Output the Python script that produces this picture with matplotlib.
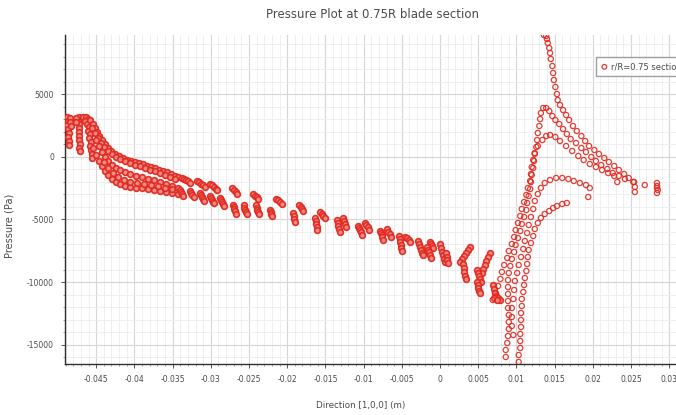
"""Pressure distribution along the 0.75R blade section."""

import matplotlib

matplotlib.use("Agg")
import matplotlib.pyplot as plt
import numpy as np
from matplotlib.ticker import FixedLocator, FixedFormatter, MultipleLocator

_RED = "#e2281f"
_TEXT = "#4a4a4a"
_MAJOR = "#d6d6d6"
_MINOR = "#ececec"

# leading edge columns
le_x = [-0.0488, -0.0487, -0.0488, -0.0487, -0.0486, -0.0487, -0.0486, -0.0486, -0.0484, -0.0484, -0.0483,
        -0.0473, -0.0474, -0.0473, -0.0472, -0.0473, -0.0472, -0.0472, -0.0471, -0.0472, -0.0471,
        -0.0476, -0.0477,
        -0.0467, -0.0463, -0.0461, -0.0465, -0.0462, -0.0459, -0.0461, -0.0458, -0.0459, -0.0457,
        -0.0458, -0.0457, -0.0455, -0.0455]
le_y = [3200, 2880, 2560, 2240, 1920, 1600, 1280, 960, 3120, 2800, 2480,
        3200, 2960, 2640, 2320, 2000, 1680, 1360, 1040, 720, 480,
        3120, 2800,
        3200, 3200, 3040, 2880, 2640, 2400, 2080, 1840, 1520, 1200, 880, 560, 240, -80]

# upper band (two rows)
upper_x = [-0.0458, -0.0454, -0.0452, -0.0449, -0.0446, -0.0442, -0.0438, -0.0435, -0.0431, -0.0425,
           -0.0420, -0.0415, -0.0410, -0.0404, -0.0399, -0.0394, -0.0389, -0.0384, -0.0378, -0.0373,
           -0.0368, -0.0363, -0.0357, -0.0352, -0.0347, -0.0343,
           -0.0455, -0.0452, -0.0448, -0.0444, -0.0440, -0.0435, -0.0429, -0.0424, -0.0419, -0.0412,
           -0.0406, -0.0399, -0.0393, -0.0386, -0.0380, -0.0373, -0.0366, -0.0360, -0.0353, -0.0347]
upper_y = [2960, 2640, 2320, 2000, 1680, 1360, 1040, 720, 480, 240,
           80, -80, -240, -320, -400, -480, -560, -720, -800, -880,
           -1040, -1120, -1200, -1360, -1520, -1600,
           2320, 1920, 1520, 1120, 800, 480, 240, 0, -160, -320,
           -480, -640, -720, -880, -1040, -1120, -1280, -1440, -1600, -1760]

# middle band
mid_x = [-0.0450, -0.0446, -0.0442, -0.0438, -0.0435, -0.0429, -0.0424, -0.0419, -0.0412, -0.0406,
         -0.0398, -0.0390, -0.0382, -0.0374, -0.0366, -0.0359, -0.0351, -0.0343]
mid_y = [1360, 880, 400, 0, -320, -640, -880, -1040, -1200, -1360,
         -1520, -1600, -1760, -1840, -2000, -2160, -2320, -2480]

# lower band (two rows)
lower_x = [-0.0454, -0.0450, -0.0446, -0.0442, -0.0438, -0.0435, -0.0429, -0.0424, -0.0419, -0.0412,
           -0.0406, -0.0398, -0.0390, -0.0382, -0.0374, -0.0366, -0.0359, -0.0351, -0.0343,
           -0.0440, -0.0435, -0.0428, -0.0421, -0.0414, -0.0406, -0.0397, -0.0387, -0.0378, -0.0369,
           -0.0360, -0.0351]
lower_y = [720, 160, -320, -720, -1120, -1440, -1760, -2000, -2160, -2320,
           -2400, -2480, -2480, -2560, -2640, -2720, -2800, -2880, -2960,
           -400, -880, -1280, -1600, -1840, -2000, -2080, -2160, -2240, -2320,
           -2480, -2560]

# upper row of short strokes along the chord
strokes_up_x = [-0.0338, -0.0335, -0.0332, -0.0330, -0.0327,
                -0.0318, -0.0315, -0.0313, -0.0310, -0.0308,
                -0.0301, -0.0298, -0.0296, -0.0293, -0.0292,
                -0.0272, -0.0270, -0.0267, -0.0266,
                -0.0245, -0.0242, -0.0240, -0.0238,
                -0.0215, -0.0212, -0.0209, -0.0207,
                -0.0185, -0.0182, -0.0181, -0.0179,
                -0.0157, -0.0154, -0.0153, -0.0151,
                -0.0127, -0.0126, -0.0124, -0.0123,
                -0.0098, -0.0097, -0.0094, -0.0093,
                -0.0069, -0.0068, -0.0065, -0.0064,
                -0.0046, -0.0043, -0.0041, -0.0039,
                -0.0013, -0.0012, -0.0010, -0.0009,
                0.0039, 0.0037, 0.0034, 0.0031, 0.0029, 0.0026,
                0.0065, 0.0063, 0.0060, 0.0059, 0.0056, 0.0055]
strokes_up_y = [-1680, -1760, -1840, -1920, -2080,
                -1920, -2000, -2160, -2240, -2400,
                -2160, -2240, -2400, -2560, -2640,
                -2480, -2640, -2800, -2960,
                -2960, -3120, -3200, -3360,
                -3360, -3440, -3600, -3760,
                -3840, -4000, -4160, -4320,
                -4400, -4560, -4720, -4880,
                -4880, -5120, -5360, -5600,
                -5280, -5440, -5600, -5840,
                -5760, -6000, -6160, -6400,
                -6400, -6480, -6640, -6800,
                -6800, -6960, -7120, -7280,
                -7200, -7440, -7680, -7920, -8160, -8400,
                -7680, -8000, -8320, -8640, -8960, -9280]

# lower row of short strokes
strokes_lo_x = [-0.0340, -0.0339, -0.0338, -0.0336,
                -0.0327, -0.0326, -0.0325, -0.0322,
                -0.0314, -0.0313, -0.0312, -0.0310, -0.0309,
                -0.0301, -0.0300, -0.0298, -0.0297, -0.0296,
                -0.0288, -0.0287, -0.0285, -0.0284, -0.0283,
                -0.0271, -0.0270, -0.0270, -0.0268, -0.0267,
                -0.0257, -0.0257, -0.0255, -0.0254, -0.0253,
                -0.0241, -0.0240, -0.0240, -0.0238, -0.0237,
                -0.0223, -0.0221, -0.0221, -0.0220,
                -0.0192, -0.0191, -0.0191, -0.0190,
                -0.0164, -0.0162, -0.0162, -0.0161, -0.0161,
                -0.0135, -0.0134, -0.0134, -0.0132, -0.0131,
                -0.0107, -0.0106, -0.0105, -0.0103, -0.0102,
                -0.0079, -0.0077, -0.0076, -0.0076, -0.0075,
                -0.0054, -0.0052, -0.0052, -0.0051, -0.0051, -0.0050,
                -0.0029, -0.0027, -0.0026, -0.0025, -0.0024, -0.0022,
                -0.0017, -0.0016, -0.0014, -0.0013, -0.0012,
                0.0000, 0.0001, 0.0003, 0.0004, 0.0005, 0.0007,
                0.0008, 0.0009, 0.0009, 0.0010,
                0.0030, 0.0031, 0.0031, 0.0033, 0.0034,
                0.0048, 0.0050, 0.0051, 0.0052, 0.0054,
                0.0048, 0.0050, 0.0050, 0.0051, 0.0052,
                0.0069, 0.0071, 0.0072, 0.0073, 0.0076, 0.0079, 0.0071, 0.0075]
strokes_lo_y = [-2640, -2800, -2960, -3120,
                -2720, -2880, -3040, -3200,
                -2880, -3040, -3200, -3360, -3520,
                -3120, -3280, -3440, -3600, -3680,
                -3280, -3440, -3600, -3760, -3920,
                -3840, -4000, -4160, -4320, -4560,
                -3840, -4080, -4240, -4400, -4560,
                -3840, -4080, -4240, -4400, -4560,
                -4240, -4400, -4560, -4720,
                -4480, -4720, -4960, -5200,
                -4880, -5120, -5360, -5600, -5840,
                -5040, -5280, -5520, -5760, -6000,
                -5520, -5680, -5840, -6000, -6240,
                -5920, -6080, -6240, -6400, -6640,
                -6320, -6560, -6800, -7040, -7280, -7520,
                -6720, -6960, -7200, -7440, -7680, -7840,
                -7200, -7440, -7600, -7840, -8080,
                -6960, -7280, -7600, -7840, -8160, -8400,
                -7680, -8000, -8240, -8480,
                -8560, -8880, -9200, -9520, -9760,
                -9040, -9280, -9520, -9760, -10000,
                -10000, -10240, -10480, -10720, -10880,
                -10240, -10560, -10880, -11120, -11280, -11440, -11280, -11440]

# trailing edge region: loops rising out of the suction trough
te1_x = [0.0086, 0.0086, 0.0088, 0.0089, 0.0090, 0.0090, 0.0090, 0.0089, 0.0089, 0.0089,
         0.0089, 0.0089, 0.0090, 0.0092, 0.0094, 0.0097, 0.0099, 0.0102, 0.0105, 0.0107,
         0.0110, 0.0113, 0.0114, 0.0116, 0.0118, 0.0119, 0.0120, 0.0122, 0.0123, 0.0124,
         0.0126, 0.0127, 0.0128, 0.0130, 0.0131, 0.0132, 0.0135, 0.0139, 0.0143, 0.0147,
         0.0151, 0.0156, 0.0161, 0.0166, 0.0171, 0.0178, 0.0185, 0.0191, 0.0198, 0.0204,
         0.0211, 0.0219, 0.0226, 0.0234, 0.0242, 0.0253, 0.0268, 0.0284]
te1_y = [-16000, -15440, -14880, -14320, -13760, -13200, -12640, -12080, -11520, -10960,
         -10400, -9840, -9280, -8720, -8160, -7600, -7040, -6480, -5920, -5360,
         -4800, -4240, -3680, -3120, -2560, -2000, -1440, -880, -320, 240,
         800, 1360, 1920, 2480, 3040, 3520, 3920, 3920, 3680, 3280,
         2960, 2640, 2240, 1840, 1440, 1120, 720, 400, 0, -320,
         -640, -960, -1280, -1520, -1760, -2000, -2240, -2480]

te2_x = [0.0103, 0.0103, 0.0105, 0.0105, 0.0105, 0.0106, 0.0106, 0.0106, 0.0107, 0.0107,
         0.0109, 0.0110, 0.0111, 0.0113, 0.0114, 0.0115, 0.0116, 0.0119, 0.0122, 0.0124,
         0.0128, 0.0132, 0.0137, 0.0143, 0.0148, 0.0153, 0.0160, 0.0166]
te2_y = [-16400, -15840, -15280, -14720, -14160, -13600, -13040, -12480, -11920, -11360,
         -10800, -10240, -9680, -9120, -8560, -8000, -7440, -6880, -6320, -5760,
         -5280, -4880, -4560, -4320, -4080, -3920, -3760, -3680]

te3_x = [0.0069, 0.0072, 0.0076, 0.0079, 0.0081, 0.0084, 0.0088, 0.0090, 0.0094, 0.0097,
         0.0099, 0.0102, 0.0105, 0.0107, 0.0110, 0.0113, 0.0115, 0.0118, 0.0119, 0.0120,
         0.0122, 0.0124, 0.0128, 0.0134, 0.0139, 0.0144, 0.0151, 0.0157, 0.0165, 0.0173,
         0.0181, 0.0188, 0.0196, 0.0204, 0.0212, 0.0220, 0.0228, 0.0232]
te3_y = [-11440, -10880, -10320, -9760, -9200, -8640, -8080, -7520, -6960, -6400,
         -5840, -5280, -4720, -4160, -3600, -3040, -2480, -1920, -1360, -800,
         -240, 320, 880, 1360, 1680, 1760, 1600, 1280, 880, 480,
         80, -240, -560, -800, -1040, -1280, -1520, -2000]

te4_x = [0.0096, 0.0094, 0.0094, 0.0094, 0.0096, 0.0097, 0.0098, 0.0101, 0.0103, 0.0106,
         0.0109, 0.0111, 0.0114, 0.0116, 0.0119, 0.0122, 0.0124, 0.0128, 0.0132, 0.0137,
         0.0144, 0.0152, 0.0160, 0.0168, 0.0175, 0.0183, 0.0191, 0.0196, 0.0194]
te4_y = [-14240, -13520, -12800, -12080, -11360, -10640, -9920, -9280, -8640, -8000,
         -7360, -6720, -6080, -5440, -4800, -4160, -3520, -2960, -2480, -2080,
         -1840, -1680, -1680, -1760, -1920, -2080, -2240, -2480, -3200]

# suction spike near x = 0.014
spike_x = [0.0136, 0.0139, 0.0140, 0.0141, 0.0143, 0.0144, 0.0145, 0.0147, 0.0148, 0.0149,
           0.0151, 0.0153, 0.0154, 0.0157, 0.0161, 0.0165, 0.0169, 0.0174, 0.0179, 0.0185,
           0.0190, 0.0195, 0.0202, 0.0208, 0.0215, 0.0221, 0.0228, 0.0234, 0.0241, 0.0247,
           0.0254, 0.0255, 0.0255,
           0.0284, 0.0284, 0.0285, 0.0284]
spike_y = [9760, 9680, 9440, 9120, 8720, 8320, 7840, 7280, 6720, 6160,
           5600, 5040, 4560, 4160, 3760, 3360, 2960, 2480, 2080, 1680,
           1280, 880, 560, 240, -80, -400, -720, -1040, -1360, -1680,
           -2000, -2400, -2800,
           -2080, -2320, -2640, -2880]

x_ticks = [-0.045, -0.04, -0.035, -0.03, -0.025, -0.02, -0.015, -0.01, -0.005,
           0, 0.005, 0.01, 0.015, 0.02, 0.025, 0.03]
x_tick_labels = ["-0.045", "-0.04", "-0.035", "-0.03", "-0.025", "-0.02", "-0.015", "-0.01", "-0.005",
                 "0", "0.005", "0.01", "0.015", "0.02", "0.025", "0.03"]
y_ticks = [5000, 0, -5000, -10000, -15000]
y_tick_labels = ["5000", "0", "-5000", "-10000", "-15000"]

# dense forward part of the section (overlapping markers look solid)
dense_x = np.concatenate([le_x, upper_x, mid_x, lower_x, strokes_up_x, strokes_lo_x])
dense_y = np.concatenate([le_y, upper_y, mid_y, lower_y, strokes_up_y, strokes_lo_y])
# aft part, markers read as separate open circles
aft_x = np.concatenate([te1_x, te2_x, te3_x, te4_x, spike_x])
aft_y = np.concatenate([te1_y, te2_y, te3_y, te4_y, spike_y])

fig = plt.figure(figsize=(6.76, 4.15), dpi=100)
fig.patch.set_facecolor("white")
# axes runs past the right edge of the canvas, as in the original screenshot
ax = fig.add_axes([65 / 676, 51 / 415, 650 / 676, 329 / 415])

ax.scatter(dense_x, dense_y, s=17, marker="o", facecolors="#f08a84", edgecolors=_RED,
           linewidths=1.2, alpha=0.95, zorder=3)
ax.scatter(aft_x, aft_y, s=14, marker="o", facecolors="none", edgecolors=_RED,
           linewidths=0.9, alpha=0.9, zorder=3, label="r/R=0.75 section")

ax.set_xlim(-0.04908, 0.03599)
ax.set_ylim(-16560, 9760)

ax.xaxis.set_major_locator(FixedLocator(x_ticks))
ax.xaxis.set_major_formatter(FixedFormatter(x_tick_labels))
ax.xaxis.set_minor_locator(MultipleLocator(0.001))
ax.yaxis.set_major_locator(FixedLocator(y_ticks))
ax.yaxis.set_major_formatter(FixedFormatter(y_tick_labels))
ax.yaxis.set_minor_locator(MultipleLocator(1000))

ax.grid(which="major", color=_MAJOR, linewidth=0.8, zorder=0)
ax.grid(which="minor", color=_MINOR, linewidth=0.6, zorder=0)
ax.set_axisbelow(True)

for side in ("top", "right"):
    ax.spines[side].set_visible(False)
for side in ("left", "bottom"):
    ax.spines[side].set_color("#303030")
    ax.spines[side].set_linewidth(1.0)

ax.tick_params(which="major", length=3, width=0.7, colors="#555555", labelsize=5.5,
               labelcolor=_TEXT, pad=5)
ax.tick_params(which="minor", length=1.5, width=0.5, colors="#777777")

fig.text(372 / 676, 1 - 14 / 415, "Pressure Plot at 0.75R blade section",
         ha="center", va="center", fontsize=8.5, color=_TEXT)
fig.text(361 / 676, 1 - 405 / 415, "Direction [1,0,0] (m)",
         ha="center", va="center", fontsize=6.3, color=_TEXT)
fig.text(10 / 676, 1 - 226 / 415, "Pressure (Pa)", rotation=90,
         ha="center", va="center", fontsize=7, color=_TEXT)

ax.legend(loc="upper left", bbox_to_anchor=(596 / 676, 1 - 57 / 415),
          bbox_transform=fig.transFigure, borderaxespad=0, fontsize=6,
          frameon=True, fancybox=False, edgecolor="#888888", handlelength=0.8,
          handletextpad=0.4, borderpad=0.6, markerscale=0.9, labelcolor=_TEXT)

fig.savefig("out.png", dpi=100, facecolor="white")
